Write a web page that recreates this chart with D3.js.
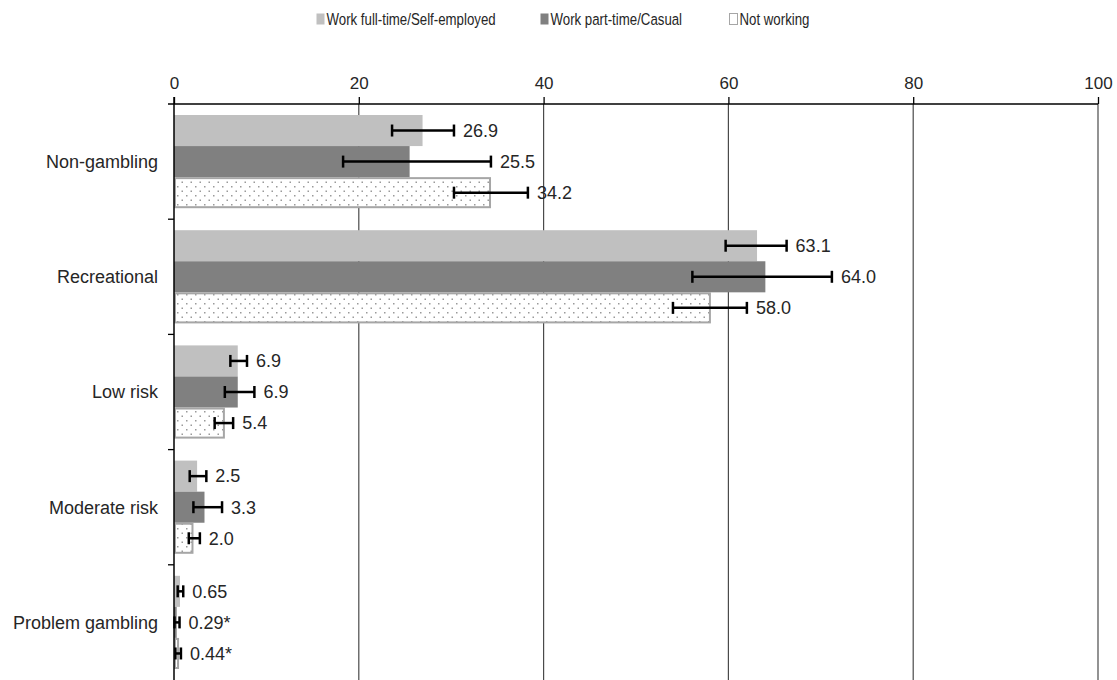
<!DOCTYPE html>
<html>
<head>
<meta charset="utf-8">
<script src="https://cdn.jsdelivr.net/npm/d3@7"></script>
<style>
  html, body { margin: 0; padding: 0; background: #fff; }
  svg { display: block; }
  text { font-family: "Liberation Sans", Arial, sans-serif; fill: #262626; }
</style>
</head>
<body>
<div id="chart"></div>
<script>
// ---- data ----
const categories = ["Non-gambling", "Recreational", "Low risk", "Moderate risk", "Problem gambling"];
const series = ["Work full-time/Self-employed", "Work part-time/Casual", "Not working"];
const valuesFullTime = [26.9, 63.1, 6.9, 2.5, 0.65];
const valuesPartTime = [25.5, 64.0, 6.9, 3.3, 0.29];
const valuesNotWorking = [34.2, 58.0, 5.4, 2.0, 0.44];
const lowFullTime = [23.6, 59.7, 6.1, 1.7, 0.4];
const highFullTime = [30.3, 66.3, 7.9, 3.5, 1.0];
const lowPartTime = [18.3, 56.1, 5.5, 2.1, 0.05];
const highPartTime = [34.3, 71.2, 8.7, 5.2, 0.6];
const lowNotWorking = [30.3, 54.0, 4.4, 1.6, 0.15];
const highNotWorking = [38.3, 62.0, 6.4, 2.8, 0.75];
const labelsFullTime = ["26.9", "63.1", "6.9", "2.5", "0.65"];
const labelsPartTime = ["25.5", "64.0", "6.9", "3.3", "0.29*"];
const labelsNotWorking = ["34.2", "58.0", "5.4", "2.0", "0.44*"];
const xTicks = [0, 20, 40, 60, 80, 100];

// ---- build table ----
const valueSets = [valuesFullTime, valuesPartTime, valuesNotWorking];
const lowSets = [lowFullTime, lowPartTime, lowNotWorking];
const highSets = [highFullTime, highPartTime, highNotWorking];
const labelSets = [labelsFullTime, labelsPartTime, labelsNotWorking];
const rows = [];
categories.forEach((c, i) => {
  series.forEach((s, j) => {
    rows.push({cat: c, ser: s, si: j, v: valueSets[j][i], lo: lowSets[j][i], hi: highSets[j][i], label: labelSets[j][i]});
  });
});

const W = 1117, H = 680;
const margin = {left: 174, right: 19, top: 104, bottom: 0};
const svg = d3.select("#chart").append("svg").attr("width", W).attr("height", H);

const defs = svg.append("defs");
const pat = defs.append("pattern").attr("id", "dots").attr("patternUnits", "userSpaceOnUse")
  .attr("width", 9).attr("height", 9);
pat.append("rect").attr("width", 9).attr("height", 9).attr("fill", "#fff");
pat.append("rect").attr("x", 1.5).attr("y", 1.5).attr("width", 1.5).attr("height", 1.5).attr("fill", "#9a9a9a");
pat.append("rect").attr("x", 6).attr("y", 6).attr("width", 1.5).attr("height", 1.5).attr("fill", "#9a9a9a");

const x = d3.scaleLinear().domain([0, 100]).range([margin.left, W - margin.right]);
const y0 = d3.scaleBand().domain(categories).range([margin.top, H - margin.bottom]).paddingInner(0).paddingOuter(0);
const y1 = d3.scaleBand().domain(series).range([11, y0.bandwidth() - 11]);

const fills = ["#c0c0c0", "#808080", "url(#dots)"];

// gridlines
svg.append("g").selectAll("line").data(xTicks.filter(t => t > 0)).join("line")
  .attr("x1", d => x(d)).attr("x2", d => x(d))
  .attr("y1", margin.top).attr("y2", H)
  .attr("stroke", "#4a4a4a").attr("stroke-width", 1.2);

// bars
svg.append("g").selectAll("rect").data(rows).join("rect")
  .attr("x", d => x(0) + (d.si === 2 ? 1 : 0))
  .attr("y", d => y0(d.cat) + y1(d.ser) + (d.si === 2 ? 1 : 0))
  .attr("width", d => Math.max(0, x(d.v) - x(0) - (d.si === 2 ? 1 : 0)))
  .attr("height", d => y1.bandwidth() - (d.si === 2 ? 2 : 0))
  .attr("fill", d => fills[d.si])
  .attr("stroke", d => d.si === 2 ? "#a6a6a6" : "none")
  .attr("stroke-width", 2);

// top axis
const xAxis = d3.axisTop(x).tickValues(xTicks).tickSize(7).tickPadding(8).tickFormat(d3.format("d"));
const gx = svg.append("g").attr("transform", `translate(0,${margin.top})`).call(xAxis);
gx.select(".domain").remove();
gx.selectAll(".tick line").attr("stroke", "#000").attr("stroke-width", 1.3);
gx.selectAll(".tick text").attr("font-size", 17).attr("fill", "#262626")
  .style("font-family", '"Liberation Sans", Arial, sans-serif');
svg.append("line").attr("x1", x(0) - 6).attr("x2", x(100)).attr("y1", margin.top).attr("y2", margin.top)
  .attr("stroke", "#000").attr("stroke-width", 1.5);

// left axis
svg.append("line").attr("x1", x(0)).attr("x2", x(0)).attr("y1", margin.top - 7).attr("y2", H)
  .attr("stroke", "#000").attr("stroke-width", 1.5);
const boundaries = categories.map(c => y0(c) + y0.bandwidth()).slice(0, -1);
svg.append("g").selectAll("line").data(boundaries).join("line")
  .attr("x1", x(0) - 6).attr("x2", x(0)).attr("y1", d => d).attr("y2", d => d)
  .attr("stroke", "#000").attr("stroke-width", 1.3);
svg.append("g").selectAll("text").data(categories).join("text")
  .attr("x", x(0) - 16).attr("y", d => y0(d) + y0.bandwidth() / 2)
  .attr("dy", "0.35em").attr("text-anchor", "end").attr("font-size", 18)
  .text(d => d);

// error bars
const eb = svg.append("g").attr("stroke", "#000").attr("stroke-width", 2.5);
rows.forEach(d => {
  const cy = y0(d.cat) + y1(d.ser) + y1.bandwidth() / 2;
  eb.append("line").attr("x1", x(d.lo)).attr("x2", x(d.hi)).attr("y1", cy).attr("y2", cy);
  eb.append("line").attr("x1", x(d.lo)).attr("x2", x(d.lo)).attr("y1", cy - 6).attr("y2", cy + 6);
  eb.append("line").attr("x1", x(d.hi)).attr("x2", x(d.hi)).attr("y1", cy - 6).attr("y2", cy + 6);
});

// value labels
svg.append("g").selectAll("text").data(rows).join("text")
  .attr("x", d => Math.max(x(d.hi), x(d.v)) + 9)
  .attr("y", d => y0(d.cat) + y1(d.ser) + y1.bandwidth() / 2)
  .attr("dy", "0.35em").attr("font-size", 18)
  .text(d => d.label);

// legend
const legendX = [316, 540, 729];
const lg = svg.append("g");
series.forEach((s, j) => {
  const g = lg.append("g").attr("transform", `translate(${legendX[j]},0)`);
  g.append("rect").attr("x", 0.5).attr("y", 13.5).attr("width", 8).attr("height", 11)
    .attr("fill", j === 2 ? "#fff" : fills[j])
    .attr("stroke", j === 2 ? "#a6a6a6" : "none").attr("stroke-width", 1);
  g.append("text").attr("transform", "translate(10.5,25) scale(0.78,1)").attr("font-size", 17)
    .text(s);
});
</script>
</body>
</html>
